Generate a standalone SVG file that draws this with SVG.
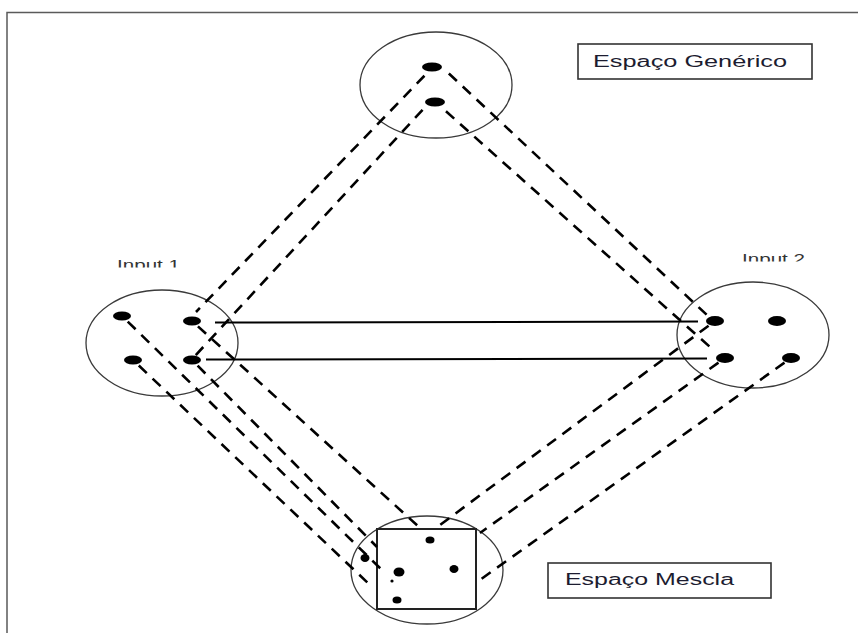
<svg xmlns="http://www.w3.org/2000/svg" width="858" height="633" viewBox="0 0 858 633">
<style>
.frame{stroke:#5a5a5a;stroke-width:1.5;fill:none}
.circ{fill:none;stroke:#3a3a3a;stroke-width:1.3}
.dot{fill:#000}
.dash{stroke:#000;stroke-width:2.6;stroke-dasharray:11 8;stroke-dashoffset:11;fill:none}
.solid{stroke:#000;stroke-width:2;fill:none}
.box{fill:#fff;stroke:#333;stroke-width:1.6}
.lbl{font-family:"Liberation Sans",Arial,sans-serif;font-size:16px;fill:#1c1c30}
.inp{font-family:"Liberation Sans",Arial,sans-serif;font-size:14px;fill:#333}
</style>
<defs>
<clipPath id="c1"><rect x="100" y="240" width="100" height="27.5"/></clipPath>
<clipPath id="c2"><rect x="730" y="235" width="100" height="26.5"/></clipPath>
</defs>
<rect width="858" height="633" fill="#fff"/>
<path class="frame" d="M7,633 V12.5 H858"/>
<g id="generic">
<ellipse class="circ" cx="436" cy="85" rx="76" ry="53"/>
<ellipse class="dot" cx="432" cy="67" rx="10" ry="4.5"/>
<ellipse class="dot" cx="435" cy="102" rx="10" ry="4.5"/>
</g>
<g id="input1">
<ellipse class="circ" cx="162" cy="343" rx="76" ry="53"/>
<ellipse class="dot" cx="122" cy="316" rx="9" ry="4.5"/>
<ellipse class="dot" cx="192" cy="321" rx="9" ry="4.5"/>
<ellipse class="dot" cx="133" cy="360" rx="9" ry="4.5"/>
<ellipse class="dot" cx="192" cy="360" rx="9" ry="4.5"/>
<text class="inp" x="117" y="270" textLength="63" lengthAdjust="spacingAndGlyphs" clip-path="url(#c1)">Input 1</text>
</g>
<g id="input2">
<ellipse class="circ" cx="753" cy="335" rx="76" ry="53"/>
<ellipse class="dot" cx="715" cy="321" rx="9" ry="5"/>
<ellipse class="dot" cx="777" cy="321" rx="9" ry="5"/>
<ellipse class="dot" cx="725" cy="358" rx="9" ry="5"/>
<ellipse class="dot" cx="791" cy="358" rx="9" ry="5"/>
<text class="inp" x="742" y="264" textLength="63" lengthAdjust="spacingAndGlyphs" clip-path="url(#c2)">Input 2</text>
</g>
<g id="blend">
<ellipse class="circ" cx="427" cy="570" rx="76" ry="54"/>
<rect x="377" y="529" width="99" height="80" fill="none" stroke="#222" stroke-width="2"/>
<ellipse class="dot" cx="430" cy="540" rx="4.5" ry="3.5"/>
<ellipse class="dot" cx="399" cy="572" rx="5.5" ry="4.5"/>
<ellipse class="dot" cx="454" cy="569" rx="4.5" ry="4"/>
<ellipse class="dot" cx="397" cy="600" rx="4.5" ry="3.5"/>
<ellipse class="dot" cx="365" cy="558" rx="4.5" ry="4"/>
<circle class="dot" cx="392" cy="581" r="1.6"/>
</g>
<g id="connectors">
<line class="solid" x1="215" y1="322.5" x2="698" y2="321.5"/>
<line class="solid" x1="206" y1="359.5" x2="707" y2="358.5"/>
<line class="dash" x1="430" y1="70" x2="196" y2="312"/>
<line class="dash" x1="428" y1="104" x2="194" y2="357"/>
<line class="dash" x1="443" y1="68" x2="708" y2="316"/>
<line class="dash" x1="440" y1="106" x2="710" y2="347"/>
<line class="dash" x1="192" y1="321" x2="419" y2="527"/>
<line class="dash" x1="192" y1="360" x2="377" y2="547"/>
<line class="dash" x1="122" y1="316" x2="385" y2="573"/>
<line class="dash" x1="133" y1="360" x2="370" y2="585"/>
<line class="dash" x1="715" y1="321" x2="440" y2="525"/>
<line class="dash" x1="725" y1="358" x2="480" y2="533"/>
<line class="dash" x1="791" y1="358" x2="477" y2="582"/>
</g>
<g id="label-generic">
<rect class="box" x="578" y="44" width="234" height="35"/>
<text class="lbl" x="593" y="67" textLength="194" lengthAdjust="spacingAndGlyphs">Espaço Genérico</text>
</g>
<g id="label-blend">
<rect class="box" x="548" y="563" width="223" height="35"/>
<text class="lbl" x="565" y="585" textLength="169" lengthAdjust="spacingAndGlyphs">Espaço Mescla</text>
</g>
</svg>
